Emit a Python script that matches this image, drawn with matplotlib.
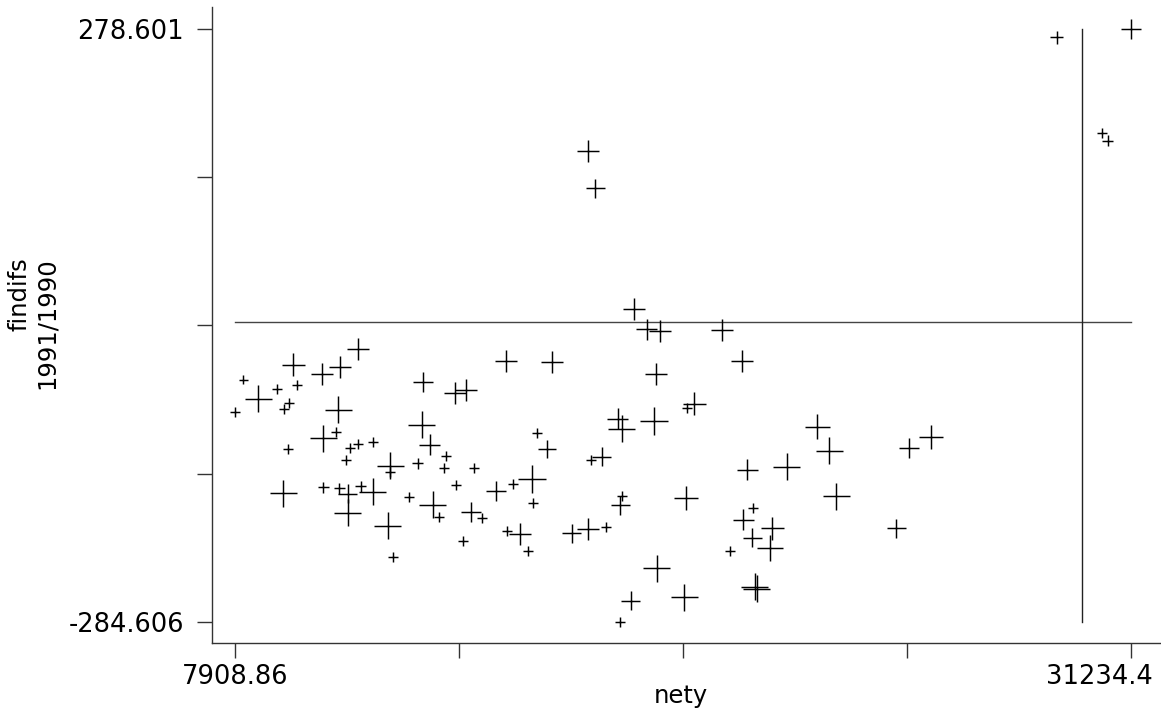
import matplotlib
matplotlib.use("Agg")
import matplotlib.pyplot as plt
import matplotlib.transforms as mtransforms
import numpy as np

# nety (x), findifs 1991/1990 (y) and a weight that sets the marker size
nety = [
    29300, 31234.4, 30487, 30628,
    17106, 17281, 18296, 18627, 18973, 20595, 21100, 18861,
    8125, 8515, 7908.86, 9010, 9427, 9515, 9322, 9184, 10166, 10642,
    11119, 10598, 10208, 10538, 9296, 10903, 11119, 11509, 10791, 9166,
    10208, 10624, 10843, 10843, 11189, 11501, 11884, 12030, 11944, 11944,
    12795, 13636, 13915, 12769, 12985, 12665, 13402, 13358, 14139, 12446,
    13056, 13220, 13654, 14053, 14347, 13837, 14956, 16169, 15763, 16039,
    14696, 15154, 15633, 15659, 14998, 15328, 15529, 16674, 17106, 17559,
    17177, 17455,
    17872, 17976, 18817, 19668, 19858, 23068, 23373, 21246, 22271, 23555,
    17984, 17932, 19642, 21386, 21142, 21897, 21376, 21837, 20788, 18887,
    21438, 21491, 18210, 19606, 17932,
    25455, 26028, 25117,
]
findifs = [
    270.6, 278.601, 179.7, 172.4,
    162.9, 127.4, 12.4, -6.6, -7.9, -7.3, -36.8, -49.1,
    -54.8, -72.9, -85.0, -63.7, -40.6, -59.6, -76.4, -82.7, -49.1, -42.7,
    -25.3, -83.3, -110.2, -104.0, -120.4, -119.8, -115.7, -113.5, -130.9, -162.5,
    -157.0, -157.8, -163.2, -181.0, -156.1, -161.3, -193.3, -223.4, -136.6, -142.0,
    -56.4, -66.9, -64.3, -97.6, -116.6, -134.0, -127.1, -138.2, -138.8, -166.0,
    -173.7, -184.8, -154.6, -180.6, -186.3, -207.9, -36.5, -38.0, -105.5, -120.7,
    -160.0, -153.7, -149.2, -171.5, -198.1, -201.2, -217.1, -200.6, -196.5, -194.6,
    -130.9, -127.7,
    -91.9, -101.4, -94.1, -81.2, -77.6, -99.2, -122.3, -140.4, -137.5, -165.4,
    -165.4, -173.9, -167.3, -176.2, -187.9, -195.8, -204.7, -214.8, -217.1, -233.8,
    -251.6, -253.5, -264.6, -261.4, -284.606,
    -119.8, -108.7, -195.8,
]
weight = [
    13, 20, 10, 11,
    22, 19, 22, 21, 22, 22, 22, 22,
    9, 27, 10, 10, 23, 10, 10, 10, 22, 22,
    22, 27, 27, 10, 10, 10, 10, 10, 10, 27,
    11, 11, 19, 27, 11, 27, 27, 10, 27, 10,
    20, 22, 22, 27, 21, 11, 10, 10, 10, 10,
    27, 10, 10, 20, 10, 10, 22, 22, 10, 18,
    20, 10, 28, 10, 10, 22, 10, 19, 22, 10,
    10, 19,
    21, 27, 28, 10, 23, 25, 27, 21, 27, 27,
    10, 19, 24, 10, 21, 23, 19, 26, 10, 27,
    27, 27, 19, 27, 10,
    20, 24, 19,
]

x_lo, x_hi = 7908.86, 31234.4
y_lo, y_hi = -284.606, 278.601
x_ref = 29970

W, H = 1161, 717
fig = plt.figure(figsize=(W / 100, H / 100), dpi=100)
ax = fig.add_axes([212 / W, (H - 643) / H, (W - 212) / W, 636 / H])

x_per_px = (x_hi - x_lo) / 896
y_per_px = (y_hi - y_lo) / 592.4
ax.set_xlim(x_lo - 23 * x_per_px, x_hi + 30 * x_per_px)
ax.set_ylim(y_lo - 21.3 * y_per_px, y_hi + 22 * y_per_px)

sizes = (np.asarray(weight) * 0.72) ** 2
ax.scatter(nety, findifs, s=sizes, marker="+", color="black",
           linewidths=1.05, zorder=3)

# reference lines at zero and at the chosen nety value
ax.plot([x_lo, x_hi], [0, 0], color="#444444", lw=1.0, zorder=2)
ax.plot([x_ref, x_ref], [y_lo, y_hi], color="#222222", lw=1.0, zorder=2)

for side in ("top", "right"):
    ax.spines[side].set_visible(False)
for side in ("left", "bottom"):
    ax.spines[side].set_color("#333333")
    ax.spines[side].set_linewidth(1.0)

yt = np.linspace(y_lo, y_hi, 5)
xt = np.linspace(x_lo, x_hi, 5)
ax.set_yticks(yt)
ax.set_yticklabels(["-284.606", "", "", "", "278.601"])
ax.set_xticks(xt)
ax.set_xticklabels(["7908.86", "", "", "", "31234.4"])
ax.tick_params(axis="both", direction="out", length=11, width=1.0,
               color="#333333", labelsize=18.5, labelcolor="black")
ax.tick_params(axis="y", pad=9)
ax.tick_params(axis="x", pad=4)

# keep the last x label inside the figure: right-align it a little past its tick
last = ax.get_xticklabels()[-1]
last.set_horizontalalignment("right")
last.set_transform(last.get_transform() +
                   mtransforms.ScaledTranslation(0.22, 0, fig.dpi_scale_trans))

fig.text(681 / W, 1 - 703 / H, "nety", ha="center", va="baseline",
         fontsize=17.5)
fig.text(33 / W, 1 - 323 / H, "findifs\n1991/1990", rotation=90,
         ha="center", va="center", multialignment="right", fontsize=17.5,
         linespacing=1.2)

fig.savefig("out.png", dpi=100)
